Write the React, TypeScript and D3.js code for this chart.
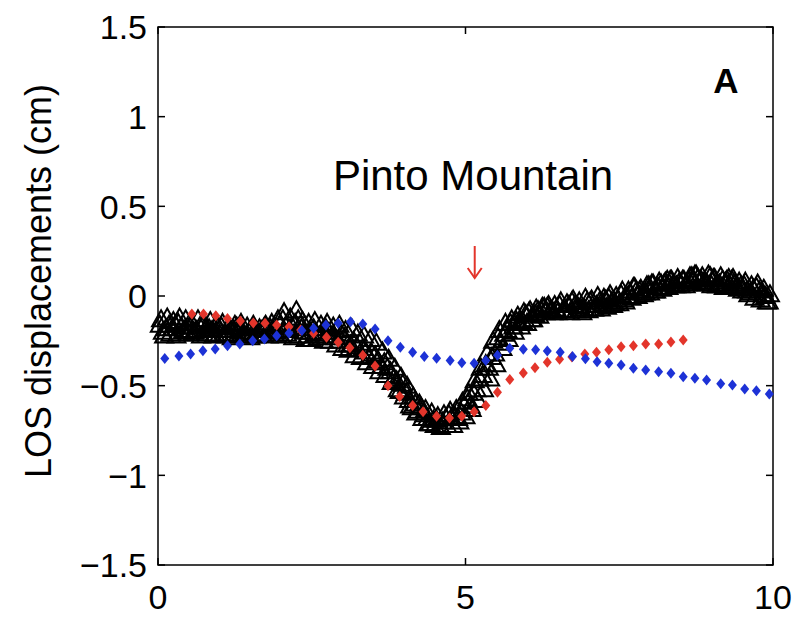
import React from "react";
import * as d3 from "d3";

// ---- data ----
const triUpperX = [0.05,0.15,0.25,0.35,0.45,0.55,0.65,0.75,0.85,0.95,1.05,1.15,1.25,1.35,1.45,1.55,1.65,1.75,1.85,1.95,2.05,2.15,2.25,2.35,2.45,2.55,2.65,2.75,2.85,2.95,3.05,3.15,3.25,3.35,3.45,3.55,3.65,3.75,3.85,3.95,4.05,4.15,4.25,4.35,4.45,4.55,4.65,4.75,4.85,4.95,5.05,5.15,5.25,5.35,5.45,5.55,5.65,5.75,5.85,5.95,6.05,6.15,6.25,6.35,6.45,6.55,6.65,6.75,6.85,6.95,7.05,7.15,7.25,7.35,7.45,7.55,7.65,7.75,7.85,7.95,8.05,8.15,8.25,8.35,8.45,8.55,8.65,8.75,8.85,8.95,9.05,9.15,9.25,9.35,9.45,9.55,9.65,9.75,9.85,9.95];
const triUpperY = [-0.13,-0.12,-0.14,-0.12,-0.13,-0.15,-0.13,-0.15,-0.14,-0.16,-0.15,-0.17,-0.16,-0.15,-0.17,-0.16,-0.18,-0.16,-0.15,-0.13,-0.09,-0.12,-0.08,-0.14,-0.15,-0.14,-0.16,-0.15,-0.17,-0.16,-0.19,-0.18,-0.21,-0.22,-0.24,-0.26,-0.31,-0.35,-0.40,-0.45,-0.50,-0.56,-0.60,-0.63,-0.65,-0.67,-0.66,-0.64,-0.63,-0.59,-0.54,-0.47,-0.40,-0.32,-0.25,-0.19,-0.15,-0.13,-0.11,-0.09,-0.08,-0.07,-0.06,-0.05,-0.05,-0.03,-0.04,-0.02,-0.03,-0.01,-0.02,0.00,-0.01,0.01,0.00,0.03,0.03,0.05,0.04,0.06,0.07,0.08,0.08,0.09,0.10,0.09,0.11,0.12,0.11,0.12,0.10,0.11,0.09,0.10,0.08,0.08,0.06,0.07,0.04,0.01];
const triLowerX = [0.1,0.2,0.3,0.4,0.5,0.6,0.7,0.8,0.9,1.0,1.1,1.2,1.3,1.4,1.5,1.6,1.7,1.8,1.9,2.0,2.1,2.2,2.3,2.4,2.5,2.6,2.7,2.8,2.9,3.0,3.1,3.2,3.3,3.4,3.5,3.6,3.7,3.8,3.9,4.0,4.1,4.2,4.3,4.4,4.5,4.6,4.7,4.8,4.9,5.0,5.1,5.2,5.3,5.4,5.5,5.6,5.7,5.8,5.9,6.0,6.1,6.2,6.3,6.4,6.5,6.6,6.7,6.8,6.9,7.0,7.1,7.2,7.3,7.4,7.5,7.6,7.7,7.8,7.9,8.0,8.1,8.2,8.3,8.4,8.5,8.6,8.7,8.8,8.9,9.0,9.1,9.2,9.3,9.4,9.5,9.6,9.7,9.8,9.9];
const triLowerY = [-0.22,-0.21,-0.22,-0.20,-0.21,-0.20,-0.22,-0.21,-0.22,-0.21,-0.22,-0.23,-0.21,-0.22,-0.23,-0.22,-0.21,-0.22,-0.21,-0.22,-0.21,-0.23,-0.22,-0.24,-0.24,-0.23,-0.25,-0.25,-0.27,-0.29,-0.30,-0.33,-0.34,-0.37,-0.39,-0.42,-0.44,-0.48,-0.52,-0.56,-0.61,-0.65,-0.68,-0.71,-0.72,-0.73,-0.72,-0.72,-0.70,-0.67,-0.63,-0.58,-0.52,-0.46,-0.38,-0.29,-0.24,-0.20,-0.17,-0.15,-0.13,-0.11,-0.09,-0.08,-0.09,-0.08,-0.09,-0.08,-0.09,-0.08,-0.07,-0.07,-0.06,-0.05,-0.04,-0.03,-0.01,0.00,0.01,0.02,0.03,0.04,0.05,0.06,0.06,0.07,0.08,0.08,0.07,0.06,0.06,0.05,0.06,0.05,0.03,0.01,-0.01,-0.02,-0.03];
const triMidAX = [0.03,0.13,0.23,0.33,0.43,0.53,0.63,0.73,0.83,0.93,1.03,1.13,1.23,1.33,1.43,1.53,1.63,1.73,1.83,1.93,2.03,2.13,2.23,2.33,2.43,2.53,2.63,2.73,2.83,2.93,3.03,3.13,3.23,3.33,3.43,3.53,3.63,3.73,3.83,3.93,4.03,4.13,4.23,4.33,4.43,4.53,4.63,4.73,4.83,4.93,5.03,5.13,5.23,5.33,5.43,5.53,5.63,5.73,5.83,5.93,6.03,6.13,6.23,6.33,6.43,6.53,6.63,6.73,6.83,6.93,7.03,7.13,7.23,7.33,7.43,7.53,7.63,7.73,7.83,7.93,8.03,8.13,8.23,8.33,8.43,8.53,8.63,8.73,8.83,8.93,9.03,9.13,9.23,9.33,9.43,9.53,9.63,9.73,9.83,9.93];
const triMidAY = [-0.16,-0.18,-0.18,-0.15,-0.19,-0.17,-0.19,-0.16,-0.18,-0.21,-0.17,-0.21,-0.19,-0.18,-0.22,-0.18,-0.21,-0.17,-0.18,-0.20,-0.13,-0.19,-0.15,-0.18,-0.22,-0.18,-0.22,-0.18,-0.22,-0.25,-0.23,-0.27,-0.28,-0.29,-0.34,-0.33,-0.39,-0.40,-0.46,-0.53,-0.54,-0.62,-0.64,-0.66,-0.71,-0.69,-0.70,-0.66,-0.67,-0.65,-0.57,-0.54,-0.46,-0.38,-0.34,-0.23,-0.21,-0.15,-0.14,-0.14,-0.09,-0.10,-0.08,-0.06,-0.09,-0.05,-0.08,-0.03,-0.06,-0.07,-0.03,-0.05,-0.04,-0.01,-0.04,0.01,0.00,0.05,0.03,0.02,0.07,0.05,0.07,0.09,0.06,0.09,0.09,0.12,0.09,0.07,0.10,0.07,0.08,0.09,0.04,0.06,0.02,0.05,0.01,-0.03];
const triMidBX = [0.08,0.18,0.28,0.38,0.48,0.58,0.68,0.78,0.88,0.98,1.08,1.18,1.28,1.38,1.48,1.58,1.68,1.78,1.88,1.98,2.08,2.18,2.28,2.38,2.48,2.58,2.68,2.78,2.88,2.98,3.08,3.18,3.28,3.38,3.48,3.58,3.68,3.78,3.88,3.98,4.08,4.18,4.28,4.38,4.48,4.58,4.68,4.78,4.88,4.98,5.08,5.18,5.28,5.38,5.48,5.58,5.68,5.78,5.88,5.98,6.08,6.18,6.28,6.38,6.48,6.58,6.68,6.78,6.88,6.98,7.08,7.18,7.28,7.38,7.48,7.58,7.68,7.78,7.88,7.98,8.08,8.18,8.28,8.38,8.48,8.58,8.68,8.78,8.88,8.98,9.08,9.18,9.28,9.38,9.48,9.58,9.68,9.78,9.88];
const triMidBY = [-0.20,-0.16,-0.16,-0.17,-0.17,-0.20,-0.17,-0.18,-0.19,-0.17,-0.21,-0.19,-0.17,-0.20,-0.20,-0.21,-0.19,-0.19,-0.19,-0.16,-0.17,-0.17,-0.13,-0.20,-0.20,-0.21,-0.20,-0.20,-0.23,-0.21,-0.27,-0.25,-0.26,-0.31,-0.32,-0.36,-0.37,-0.42,-0.47,-0.49,-0.58,-0.60,-0.62,-0.68,-0.69,-0.72,-0.68,-0.68,-0.68,-0.61,-0.61,-0.52,-0.44,-0.40,-0.32,-0.26,-0.19,-0.17,-0.15,-0.10,-0.13,-0.08,-0.06,-0.08,-0.07,-0.08,-0.05,-0.05,-0.07,-0.03,-0.07,-0.03,-0.02,-0.03,-0.02,-0.02,0.02,0.03,0.02,0.06,0.03,0.07,0.09,0.07,0.08,0.06,0.11,0.10,0.08,0.11,0.06,0.09,0.10,0.07,0.06,0.03,0.04,0.03,0.00];

const redX = [0.55,0.74,0.94,1.13,1.34,1.55,1.74,1.93,2.13,2.32,2.53,2.74,2.93,3.12,3.33,3.53,3.74,3.93,4.14,4.31,4.53,4.74,4.94,5.14,5.33,5.52,5.72,5.94,6.13,6.33,6.53,6.73,6.94,7.13,7.33,7.53,7.73,7.93,8.14,8.34,8.54];
const redY = [-0.10,-0.10,-0.11,-0.125,-0.14,-0.15,-0.152,-0.162,-0.171,-0.19,-0.208,-0.23,-0.258,-0.288,-0.33,-0.39,-0.50,-0.56,-0.61,-0.646,-0.67,-0.68,-0.67,-0.645,-0.61,-0.537,-0.465,-0.43,-0.40,-0.37,-0.353,-0.34,-0.323,-0.313,-0.30,-0.283,-0.277,-0.268,-0.268,-0.257,-0.245];

const blueX = [0.11,0.34,0.53,0.73,0.93,1.13,1.33,1.54,1.73,1.93,2.13,2.34,2.53,2.73,2.93,3.13,3.33,3.53,3.74,3.94,4.14,4.33,4.53,4.75,4.94,5.14,5.33,5.52,5.72,5.94,6.14,6.33,6.54,6.74,6.95,7.14,7.33,7.53,7.73,7.93,8.14,8.34,8.54,8.73,8.92,9.15,9.34,9.54,9.73,9.94];
const blueY = [-0.348,-0.335,-0.323,-0.305,-0.296,-0.277,-0.268,-0.249,-0.24,-0.221,-0.208,-0.193,-0.18,-0.162,-0.152,-0.143,-0.156,-0.184,-0.249,-0.286,-0.314,-0.338,-0.347,-0.36,-0.372,-0.375,-0.36,-0.33,-0.292,-0.297,-0.30,-0.307,-0.314,-0.338,-0.35,-0.366,-0.375,-0.385,-0.403,-0.413,-0.422,-0.431,-0.45,-0.459,-0.468,-0.49,-0.496,-0.519,-0.528,-0.547];

const xTicks = [0, 5, 10];
const yTicks = [-1.5, -1, -0.5, 0, 0.5, 1, 1.5];
const yLabel = "LOS displacements (cm)";
const faultLabel = "Pinto Mountain";
const faultX = 5.15;
const panelLabel = "A";

const W = 802, H = 621;
const M = { left: 158, right: 773, top: 27, bottom: 565 };
const RED = "#e3352b";
const BLUE = "#1d32d6";
const FONT = "'Liberation Sans', Arial, Helvetica, sans-serif";

const fmt = (v: number) => (v < 0 ? "\u2212" + String(Math.abs(v)) : String(v));

export default function App() {
  const x = d3.scaleLinear().domain([0, 10]).range([M.left, M.right]);
  const y = d3.scaleLinear().domain([-1.5, 1.5]).range([M.bottom, M.top]);

  const tri = "M0,-9L9,7L-9,7Z";
  const diamond = "M0,-5.5L4.5,0L0,5.5L-4.5,0Z";

  const triPts: [number, number][] = [];
  const addPts = (xs: number[], ys: number[]) => {
    for (let i = 0; i < xs.length; i++) triPts.push([xs[i], ys[i]]);
  };
  addPts(triLowerX, triLowerY);
  addPts(triMidAX, triMidAY);
  addPts(triUpperX, triUpperY);
  addPts(triMidBX, triMidBY);

  const tickLen = 7;
  const ax = x(faultX);

  return (
    <svg width={W} height={H} style={{ position: "absolute", left: 0, top: 0, background: "#fff" }} fontFamily={FONT}>
      <rect x={0} y={0} width={W} height={H} fill="#fff" />
      <rect x={M.left} y={M.top} width={M.right - M.left} height={M.bottom - M.top} fill="none" stroke="#000" strokeWidth={1.5} />
      {xTicks.map((t) => (
        <g key={"xt" + t}>
          <line x1={x(t)} x2={x(t)} y1={M.bottom} y2={M.bottom - tickLen} stroke="#000" strokeWidth={1.5} />
          <line x1={x(t)} x2={x(t)} y1={M.top} y2={M.top + tickLen} stroke="#000" strokeWidth={1.5} />
          <text x={x(t)} y={M.bottom + 44} textAnchor="middle" fontSize={34}>{fmt(t)}</text>
        </g>
      ))}
      {yTicks.map((t) => (
        <g key={"yt" + t}>
          <line x1={M.left} x2={M.left + tickLen} y1={y(t)} y2={y(t)} stroke="#000" strokeWidth={1.5} />
          <line x1={M.right} x2={M.right - tickLen} y1={y(t)} y2={y(t)} stroke="#000" strokeWidth={1.5} />
          <text x={M.left - 11} y={y(t)} dy="0.36em" textAnchor="end" fontSize={34}>{fmt(t)}</text>
        </g>
      ))}
      <text transform={`translate(51,281) rotate(-90)`} textAnchor="middle" fontSize={36}>{yLabel}</text>

      {triPts.map((p, i) => (
        <path key={"t" + i} d={tri} transform={`translate(${x(p[0])},${y(p[1])})`} fill="none" stroke="#000" strokeWidth={2} />
      ))}
      {redX.map((v, i) => (
        <path key={"r" + i} d={diamond} transform={`translate(${x(v)},${y(redY[i])})`} fill={RED} />
      ))}
      {blueX.map((v, i) => (
        <path key={"b" + i} d={diamond} transform={`translate(${x(v)},${y(blueY[i])})`} fill={BLUE} />
      ))}

      <text x={473} y={190} textAnchor="middle" fontSize={42}>{faultLabel}</text>
      <g stroke={RED} strokeWidth={2} fill="none">
        <line x1={ax} x2={ax} y1={246} y2={278} />
        <polyline points={`${ax - 7},${268} ${ax},${278} ${ax + 7},${268}`} />
      </g>
      <text x={726} y={93} textAnchor="middle" fontSize={35} fontWeight="bold">{panelLabel}</text>
    </svg>
  );
}
